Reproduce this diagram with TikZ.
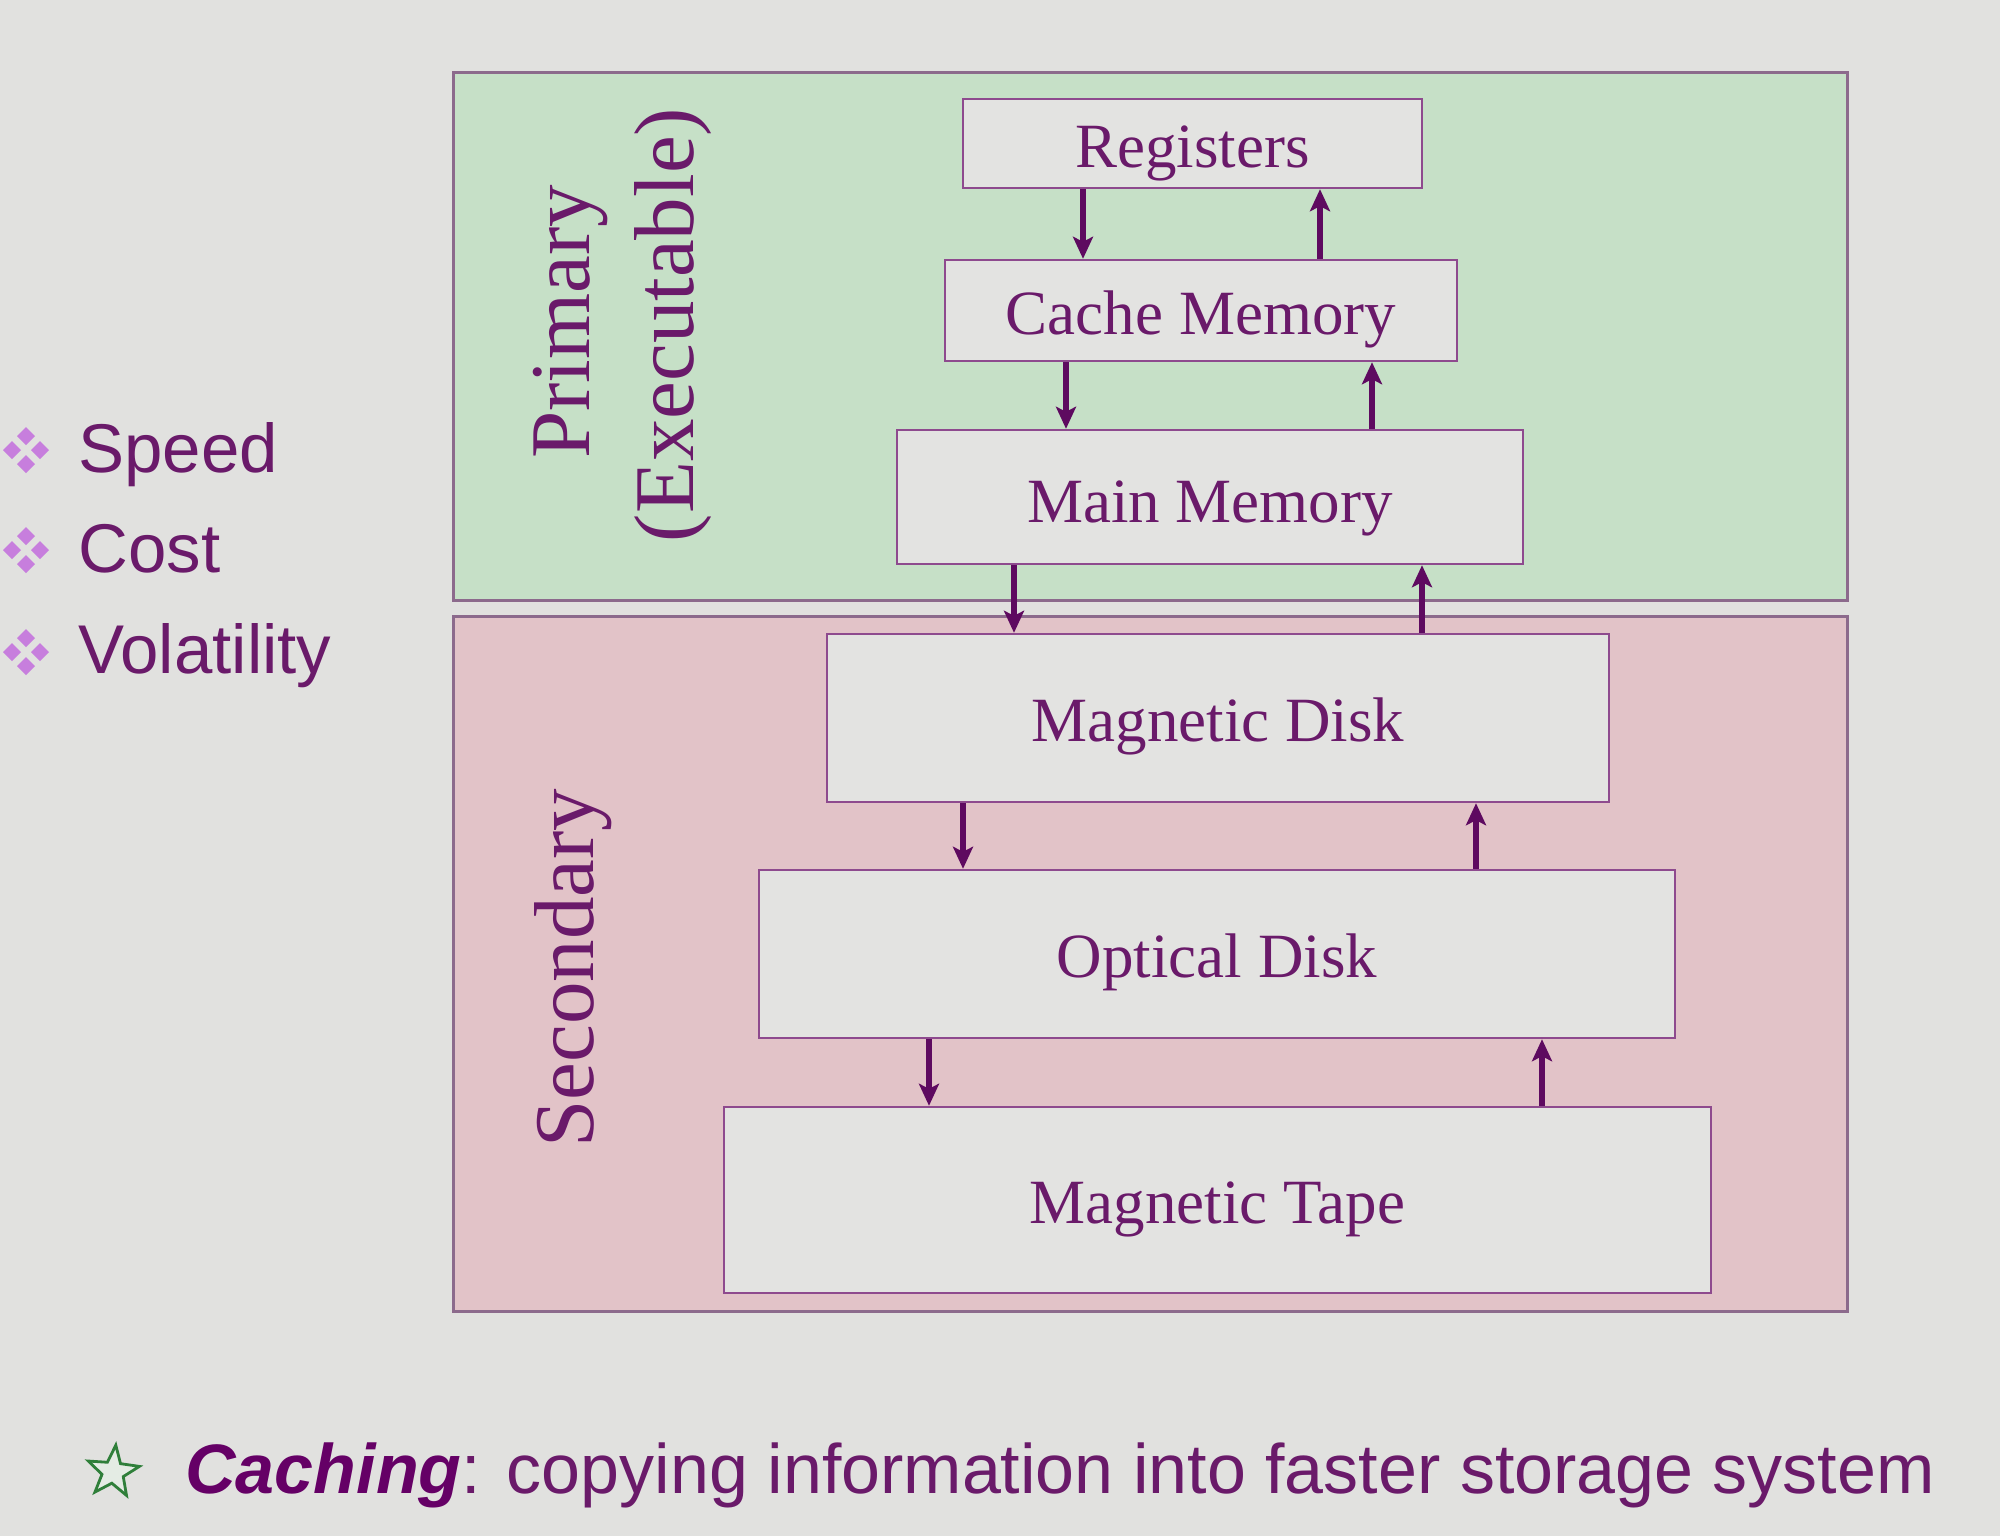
\documentclass[tikz,border=0pt]{standalone}
\usepackage{fontspec}
\setmainfont{Liberation Serif}
\setsansfont{Liberation Sans}
\usetikzlibrary{arrows.meta,calc,shapes.geometric}
\definecolor{bg}{HTML}{E1E1DF}
\definecolor{prim}{HTML}{C6E0C7}
\definecolor{sec}{HTML}{E2C3C8}
\definecolor{boxfill}{HTML}{E3E3E1}
\definecolor{boxline}{HTML}{8E4A8E}
\definecolor{frame}{HTML}{8C6A8C}
\definecolor{txt}{HTML}{6A1A6A}
\definecolor{captxt}{HTML}{650066}
\definecolor{arrc}{HTML}{5E0A60}
\definecolor{bul}{HTML}{C77EDD}
\definecolor{stargreen}{HTML}{2F7F3A}
\definecolor{starfill}{HTML}{E4ECE4}
\begin{document}
\begin{tikzpicture}[x=0.5pt,y=-0.5pt,
 region/.style={draw=frame, line width=1.5pt, minimum width=697pt, inner sep=0pt},
 memb/.style={draw=boxline, fill=boxfill, line width=1.2pt, inner sep=0pt},
 lbl/.style={text=txt, font=\fontsize{31.5pt}{36pt}\selectfont, anchor=base, inner sep=0pt},
 side/.style={text=txt, font=\fontsize{42.5pt}{48pt}\selectfont, rotate=90, inner sep=0pt},
 arr/.style={draw=arrc, line width=2.6pt, -{Stealth[length=11pt,width=10pt,inset=2.5pt]}},
 item/.style={text=txt, font=\sffamily\fontsize{34.5pt}{40pt}\selectfont, anchor=base west, inner sep=0pt},
 diam/.pic={\foreach \dx/\dy in {0/-14,0/14,-14/0,14/0}{\fill[bul] (\dx,\dy) +(0,-9) -- +(9,0) -- +(0,9) -- +(-9,0) -- cycle;}}
]
\useasboundingbox (0,0) rectangle (2000,1536);
\fill[bg] (0,0) rectangle (2000,1536);

% regions
\node[region, fill=prim, minimum height=263.5pt] (primary) at (1150,336.5) {};
\node[region, fill=sec, minimum height=347.5pt] (secondary) at (1150,963.5) {};

\node[side] (primlbl) at (571,322) {Primary};
\node[side] (execlbl) at (673,325) {(Executable)};
\node[side] (seclbl) at (573,968) {Secondary};

% memory boxes
\node[memb, minimum width=229.5pt, minimum height=44.5pt] (reg) at (1192.5,143.5) {};
\node[memb, minimum width=256pt, minimum height=50.5pt] (cache) at (1201,310.5) {};
\node[memb, minimum width=313pt, minimum height=67pt] (main) at (1210,497) {};
\node[memb, minimum width=391pt, minimum height=84pt] (mdisk) at (1218,718) {};
\node[memb, minimum width=458pt, minimum height=84pt] (odisk) at (1217,954) {};
\node[memb, minimum width=493.5pt, minimum height=93pt] (tape) at (1217.5,1200) {};

\node[lbl] (regt) at ($(reg.center)+(0,23.5)$) {Registers};
\node[lbl] (cachet) at ($(cache.center)+(0,23.5)$) {Cache Memory};
\node[lbl] (maint) at ($(main.center)+(0,25)$) {Main Memory};
\node[lbl] (mdiskt) at ($(mdisk.center)+(0,23)$) {Magnetic Disk};
\node[lbl] (odiskt) at ($(odisk.center)+(0,23)$) {Optical Disk};
\node[lbl] (tapet) at ($(tape.center)+(0,23)$) {Magnetic Tape};

% arrow columns
\coordinate (x1d) at (1083,0); \coordinate (x1u) at (1320,0);
\coordinate (x2d) at (1066,0); \coordinate (x2u) at (1372,0);
\coordinate (x3d) at (1014,0); \coordinate (x3u) at (1422,0);
\coordinate (x4d) at (963,0);  \coordinate (x4u) at (1476,0);
\coordinate (x5d) at (929,0);  \coordinate (x5u) at (1542,0);

\draw[arr] (reg.south -| x1d) -- (cache.north -| x1d);
\draw[arr] (cache.north -| x1u) -- (reg.south -| x1u);
\draw[arr] (cache.south -| x2d) -- (main.north -| x2d);
\draw[arr] (main.north -| x2u) -- (cache.south -| x2u);
\draw[arr] (main.south -| x3d) -- (mdisk.north -| x3d);
\draw[arr] (mdisk.north -| x3u) -- (main.south -| x3u);
\draw[arr] (mdisk.south -| x4d) -- (odisk.north -| x4d);
\draw[arr] (odisk.north -| x4u) -- (mdisk.south -| x4u);
\draw[arr] (odisk.south -| x5d) -- (tape.north -| x5d);
\draw[arr] (tape.north -| x5u) -- (odisk.south -| x5u);

% bullets
\pic at (26,450) {diam};
\pic at (26,550) {diam};
\pic at (26,652) {diam};
\node[item] (speed) at (78,472) {Speed};
\node[item] (cost) at (78,572) {Cost};
\node[item] (vol) at (78,673) {Volatility};

% caption
\node[star, star points=5, star point ratio=2.4, minimum size=27pt, inner sep=0pt, draw=stargreen, fill=starfill, line width=1.4pt, rotate=-6] (star) at (113,1472) {};
\node[anchor=base west, inner sep=0pt, font=\sffamily\fontsize{35pt}{40pt}\selectfont, text=txt] (cap) at (185,1493) {\textcolor{captxt}{\textbf{\textit{Caching}}}: copying information into faster storage system};
\end{tikzpicture}
\end{document}
